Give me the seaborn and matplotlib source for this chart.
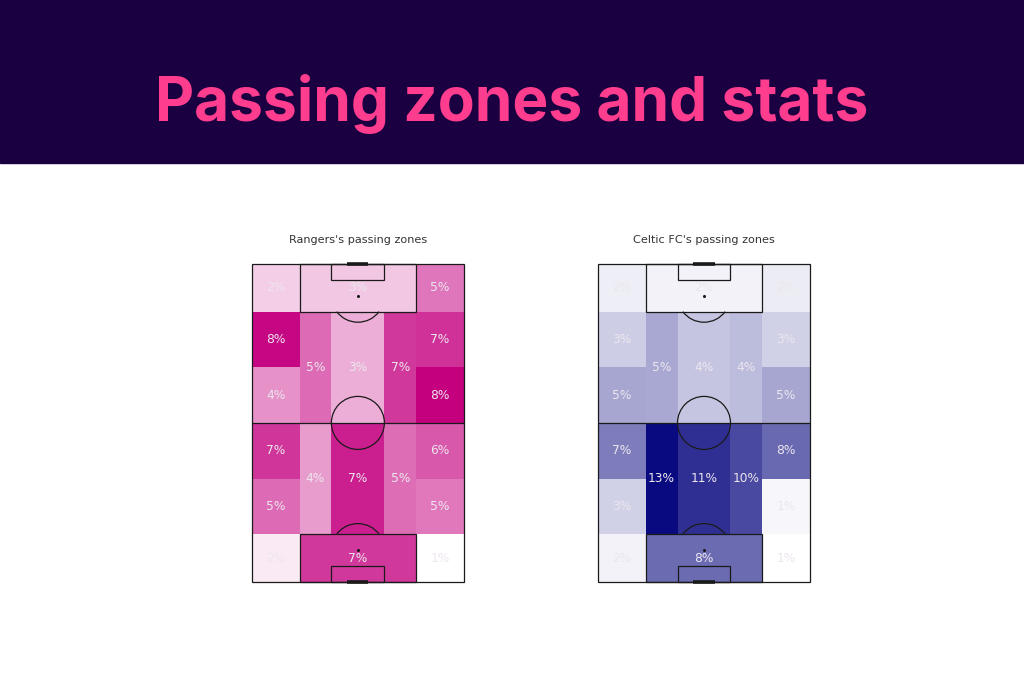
import numpy as np
import pandas as pd
import matplotlib
matplotlib.use('Agg')
import matplotlib.pyplot as plt
from matplotlib.patches import Rectangle, Arc, Circle
import seaborn as sns

# share of passes per zone (%), zone order given by ZONES below
rangers_share = [2.4, 2.6, 4.9,
                 8.0, 4.1, 5.2, 3.3, 6.6, 6.8, 8.2,
                 6.7, 5.2, 3.8, 7.3, 5.1, 5.7, 4.8,
                 1.6, 6.6, 1.0]
celtic_share = [1.8, 1.6, 1.9,
                3.4, 5.4, 5.3, 3.8, 4.3, 3.3, 5.4,
                7.4, 3.3, 13.2, 11.3, 10.0, 8.4, 1.3,
                1.6, 8.3, 0.9]

team_names = ["Rangers", "Celtic FC"]
team_colors = ["#c4007f", "#0a0a80"]

# zone geometry on a 80 x 120 vertical pitch: (x0, x1, y0, y1), y from top
ZONES = [
    (0, 18, 0, 18), (18, 62, 0, 18), (62, 80, 0, 18),
    (0, 18, 18, 39), (0, 18, 39, 60),
    (18, 30, 18, 60), (30, 50, 18, 60), (50, 62, 18, 60),
    (62, 80, 18, 39), (62, 80, 39, 60),
    (0, 18, 60, 81), (0, 18, 81, 102),
    (18, 30, 60, 102), (30, 50, 60, 102), (50, 62, 60, 102),
    (62, 80, 60, 81), (62, 80, 81, 102),
    (0, 18, 102, 120), (18, 62, 102, 120), (62, 80, 102, 120),
]


def zone_grid(values):
    grid = np.zeros((120, 80))
    for (x0, x1, y0, y1), v in zip(ZONES, values):
        grid[y0:y1, x0:x1] = v
    return pd.DataFrame(grid)


def draw_pitch(ax):
    lc, lw = '#1a1a1a', 0.9
    kw = dict(fill=False, ec=lc, lw=lw, clip_on=False, zorder=3)
    ax.add_patch(Rectangle((0, 0), 80, 120, **kw))
    ax.plot([0, 80], [60, 60], color=lc, lw=lw, zorder=3)
    ax.add_patch(Circle((40, 60), 10, **kw))
    for top in (True, False):
        y_edge = 0 if top else 120
        s = 1 if top else -1
        ax.add_patch(Rectangle((18, min(y_edge, y_edge + s * 18)), 44, 18, **kw))
        ax.add_patch(Rectangle((30, min(y_edge, y_edge + s * 6)), 20, 6, **kw))
        ax.plot(40, y_edge + s * 12, marker='o', ms=1.2, color=lc, zorder=3)
        ax.plot([36, 44], [y_edge, y_edge], color=lc, lw=2.6,
                solid_capstyle='butt', clip_on=False, zorder=4)
        # penalty arc, outside the box
        if top:
            ax.add_patch(Arc((40, 12), 20, 20, theta1=37, theta2=143,
                             ec=lc, lw=lw, zorder=3))
        else:
            ax.add_patch(Arc((40, 108), 20, 20, theta1=217, theta2=323,
                             ec=lc, lw=lw, zorder=3))


fig = plt.figure(figsize=(10.24, 6.83), dpi=100)
fig.patch.set_facecolor('white')

# header banner
fig.patches.append(Rectangle((0, 0.7613), 1, 0.2387, transform=fig.transFigure,
                             color='#1a0040', zorder=0))
fig.text(0.5, 0.848, 'Passing zones and stats', ha='center', va='center',
         fontsize=43.5, fontweight='bold', color='#ff3d8f', family='Inter')

positions = [[0.246, 0.148, 0.207, 0.4656], [0.584, 0.148, 0.207, 0.4656]]
for name, color, values, pos in zip(team_names, team_colors,
                                    [rangers_share, celtic_share], positions):
    ax = fig.add_axes(pos)
    cmap = sns.blend_palette(['white', color], as_cmap=True)
    sns.heatmap(zone_grid(values), cmap=cmap, vmin=min(values), vmax=max(values),
                cbar=False, ax=ax, xticklabels=False, yticklabels=False,
                linewidths=0)
    ax.set_xlim(0, 80)
    ax.set_ylim(120, 0)
    draw_pitch(ax)
    for (x0, x1, y0, y1), v in zip(ZONES, values):
        ax.text((x0 + x1) / 2, (y0 + y1) / 2, f"{round(v)}%", ha='center',
                va='center', fontsize=8.8, color='#ece6ee', zorder=5)
    ax.set_title(f"{name}'s passing zones", fontsize=8.1, color='#333333', pad=15)
    ax.axis('off')

fig.savefig('out.png', dpi=100)
